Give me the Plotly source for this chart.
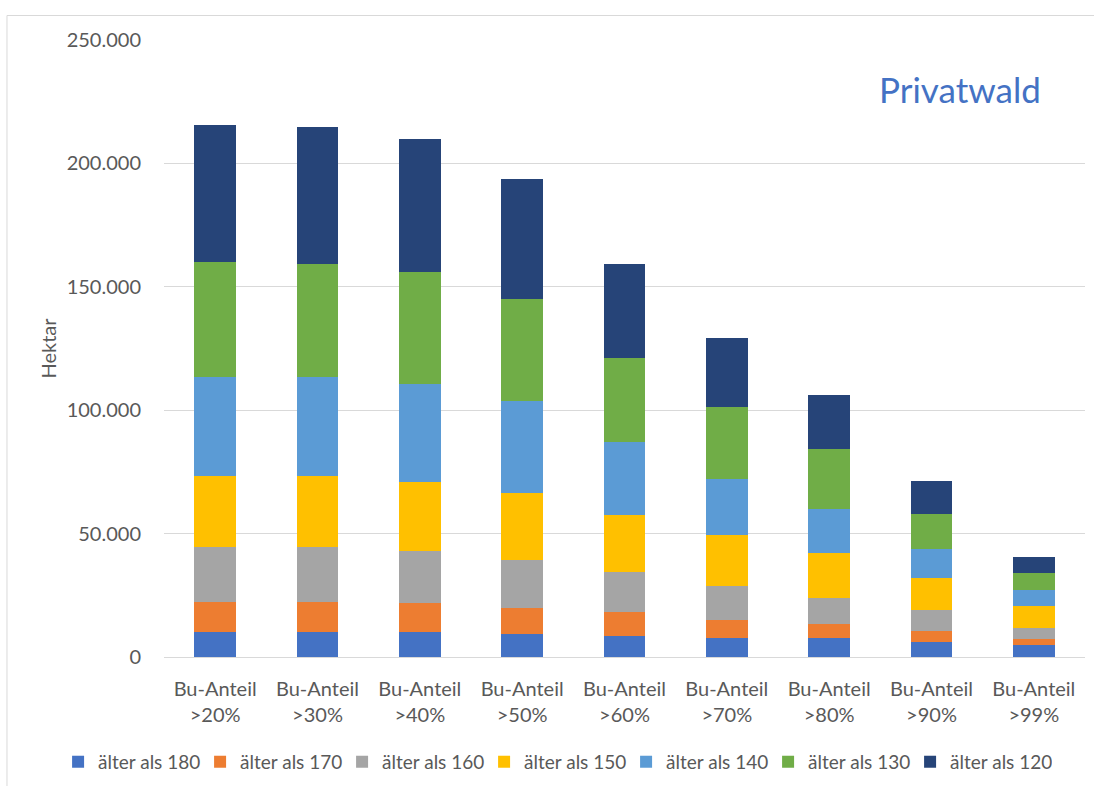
import plotly.graph_objects as go

kategorien = ["Bu-Anteil<br>>20%", "Bu-Anteil<br>>30%", "Bu-Anteil<br>>40%",
              "Bu-Anteil<br>>50%", "Bu-Anteil<br>>60%", "Bu-Anteil<br>>70%",
              "Bu-Anteil<br>>80%", "Bu-Anteil<br>>90%", "Bu-Anteil<br>>99%"]

aelter_180 = [10300, 10300, 10000, 9500, 8500, 7800, 7700, 5900, 4850]
aelter_170 = [11800, 11800, 11700, 10500, 9700, 7200, 5500, 4450, 2450]
aelter_160 = [22400, 22400, 21100, 19500, 16200, 13900, 10900, 8500, 4300]
aelter_150 = [28800, 28800, 28000, 27000, 23100, 20400, 18200, 13350, 8900]
aelter_140 = [40300, 40300, 39700, 37150, 29700, 22700, 17650, 11600, 6500]
aelter_130 = [46600, 45700, 45300, 41600, 34050, 29200, 24500, 14150, 6900]
aelter_120 = [55500, 55300, 54000, 48500, 37950, 28100, 21850, 13500, 6450]

serien = [
    ("älter als 180", aelter_180, "#4472C4"),
    ("älter als 170", aelter_170, "#ED7D31"),
    ("älter als 160", aelter_160, "#A5A5A5"),
    ("älter als 150", aelter_150, "#FFC000"),
    ("älter als 140", aelter_140, "#5B9BD5"),
    ("älter als 130", aelter_130, "#70AD47"),
    ("älter als 120", aelter_120, "#264478"),
]

schrift = "Lato, 'Open Sans', sans-serif"
grau = "#595959"

fig = go.Figure()
for name, werte, farbe in serien:
    fig.add_trace(go.Bar(
        x=kategorien,
        y=werte,
        name=name,
        marker=dict(color=farbe, line=dict(width=0)),
    ))

fig.update_layout(
    barmode="stack",
    bargap=0.59,
    width=1094,
    height=786,
    margin=dict(l=164, r=9, t=40, b=129, autoexpand=False),
    paper_bgcolor="white",
    plot_bgcolor="white",
    separators=",.",
    font=dict(family=schrift, color=grau, size=18),
    showlegend=True,
    # links ausserhalb verankert, damit die Legende einzeilig bleibt
    legend=dict(
        orientation="h",
        x=-0.115,
        xanchor="left",
        y=-0.17,
        yanchor="middle",
        font=dict(size=19, color=grau),
        traceorder="normal",
        itemwidth=30,
        entrywidth=97,
        entrywidthmode="pixels",
    ),
    yaxis=dict(
        range=[0, 250000],
        tickvals=[0, 50000, 100000, 150000, 200000, 250000],
        tickformat=",d",
        gridcolor="#d9d9d9",
        gridwidth=1,
        zeroline=True,
        zerolinecolor="#d9d9d9",
        zerolinewidth=1,
        tickfont=dict(size=20, color=grau),
        ticklabelstandoff=22,
        title=dict(text="Hektar", font=dict(size=20, color=grau), standoff=4),
    ),
    xaxis=dict(
        tickfont=dict(size=20, color=grau),
        ticklabelstandoff=18,
        showline=False,
        showgrid=False,
    ),
    annotations=[dict(
        text="Privatwald",
        xref="paper", yref="paper",
        x=0.954, y=0.921,
        xanchor="right", yanchor="middle",
        showarrow=False,
        font=dict(size=35, color="#4472C4", family=schrift),
    )],
    shapes=[dict(
        type="rect", xref="paper", yref="paper",
        x0=-0.1705, x1=1.03, y0=-0.25, y1=1.0397,
        line=dict(color="#d9d9d9", width=1),
        fillcolor="rgba(0,0,0,0)",
    )],
)

fig.write_html("out.html", config={"displayModeBar": False},
               post_script="document.body.style.margin='0px';")
